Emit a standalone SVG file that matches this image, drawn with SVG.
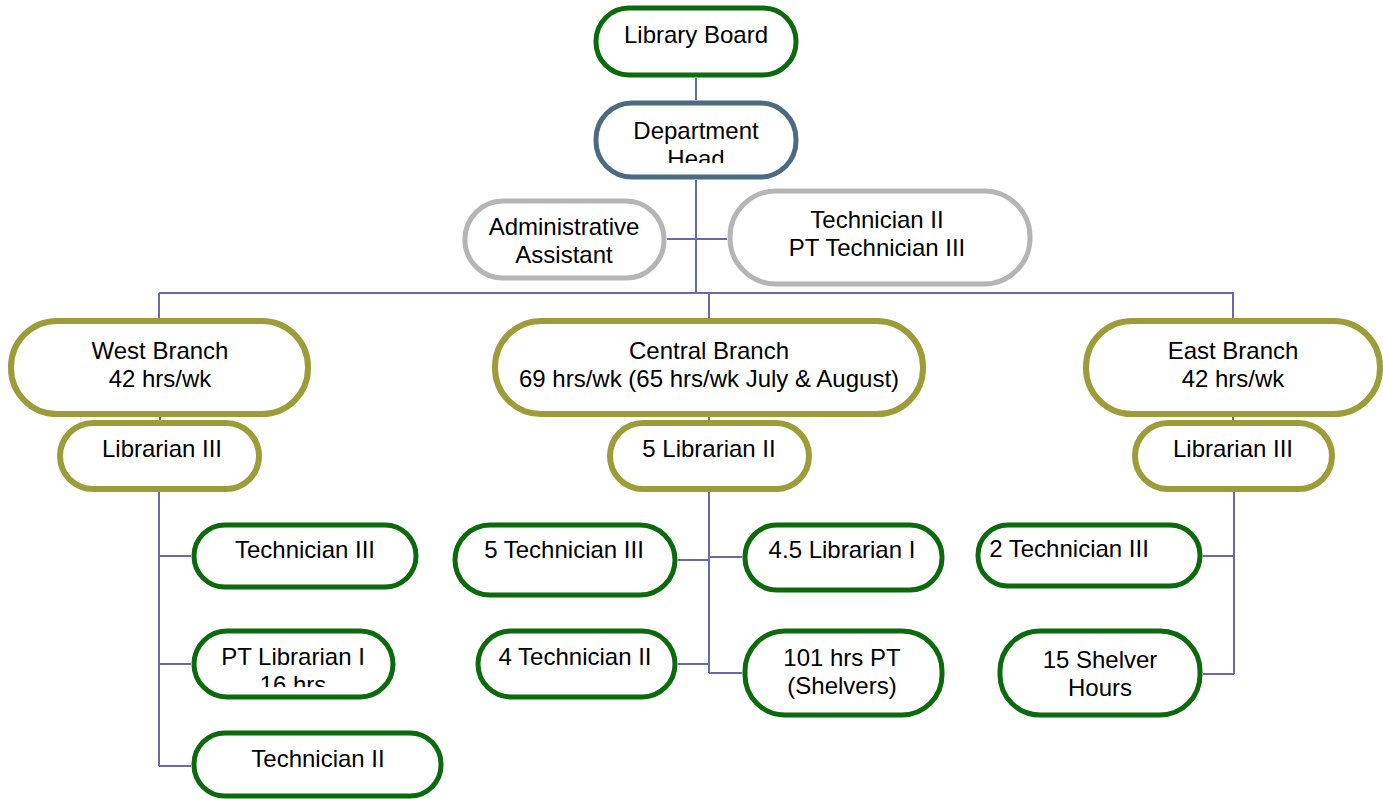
<svg xmlns="http://www.w3.org/2000/svg" width="1383" height="799" viewBox="0 0 1383 799">
  <style>
    .box { fill: #ffffff; stroke-width: 5; }
    .g { stroke: #0b6a0b; }
    .o { stroke: #9c9c38; stroke-width: 6; }
    .s { stroke: #b5b5b5; }
    .b { stroke: #4b6b80; }
    .lbl { font-family: "Liberation Sans", Arial, sans-serif; font-size: 24px; fill: #000; text-anchor: middle; }
    .wire { stroke: #6b6ba3; stroke-width: 2; fill: none; }
  </style>
  <defs>
    <clipPath id="clipHead"><rect x="590" y="100" width="215" height="63"/></clipPath>
    <clipPath id="clipPt"><rect x="190" y="628" width="210" height="59"/></clipPath>
  </defs>
  <rect width="1383" height="799" fill="#ffffff"/>

  <g id="connectors" class="wire">
    <path d="M696 78V100"/>
    <path d="M696 180V293"/>
    <path d="M667 239H727"/>
    <path d="M159 293H1234"/>
    <path d="M159 293V318M709 293V318M1233 293V318"/>
    <path d="M160 414V423M709 414V423M1233 414V423"/>
    <path d="M159 492V766M159 556H191M159 664H191M159 766H191"/>
    <path d="M709 492V673M678 560H709M709 557H742M678 664H709M709 673H742"/>
    <path d="M1234 492V674M1203 556H1234M1203 674H1234"/>
  </g>

  <g id="library-board">
    <rect class="box g" x="596" y="8" width="200" height="67" rx="33"/>
    <text class="lbl" x="696" y="43">Library Board</text>
  </g>
  <g id="department-head">
    <rect class="box b" x="596" y="103" width="200" height="74" rx="36"/>
    <text class="lbl" x="696" y="139" clip-path="url(#clipHead)">Department<tspan x="696" dy="28">Head</tspan></text>
  </g>
  <g id="admin-assistant">
    <rect class="box s" x="465" y="201" width="199" height="77" rx="38"/>
    <text class="lbl" x="564" y="235">Administrative<tspan x="564" dy="28">Assistant</tspan></text>
  </g>
  <g id="technician-staff">
    <rect class="box s" x="730" y="191" width="300" height="93" rx="46"/>
    <text class="lbl" x="877" y="228">Technician II<tspan x="877" dy="28">PT Technician III</tspan></text>
  </g>

  <g id="west-branch">
    <rect class="box o" x="11" y="321" width="297" height="93" rx="46"/>
    <text class="lbl" x="160" y="359">West Branch<tspan x="160" dy="28">42 hrs/wk</tspan></text>
  </g>
  <g id="west-librarian-iii">
    <rect class="box o" x="60" y="423" width="199" height="66" rx="33"/>
    <text class="lbl" x="162" y="457">Librarian III</text>
  </g>
  <g id="central-branch">
    <rect class="box o" x="495" y="321" width="428" height="93" rx="46"/>
    <text class="lbl" x="709" y="359">Central Branch<tspan x="709" dy="28">69 hrs/wk (65 hrs/wk July &amp; August)</tspan></text>
  </g>
  <g id="central-librarian-ii">
    <rect class="box o" x="610" y="423" width="199" height="66" rx="33"/>
    <text class="lbl" x="709" y="457">5 Librarian II</text>
  </g>
  <g id="east-branch">
    <rect class="box o" x="1086" y="321" width="294" height="93" rx="46"/>
    <text class="lbl" x="1233" y="359">East Branch<tspan x="1233" dy="28">42 hrs/wk</tspan></text>
  </g>
  <g id="east-librarian-iii">
    <rect class="box o" x="1135" y="423" width="197" height="66" rx="33"/>
    <text class="lbl" x="1233" y="457">Librarian III</text>
  </g>

  <g id="west-technician-iii">
    <rect class="box g" x="194" y="525" width="222" height="62" rx="31"/>
    <text class="lbl" x="305" y="558">Technician III</text>
  </g>
  <g id="west-pt-librarian-i">
    <rect class="box g" x="194" y="631" width="199" height="66" rx="33"/>
    <text class="lbl" x="293" y="665" clip-path="url(#clipPt)">PT Librarian I<tspan x="293" dy="28">16 hrs</tspan></text>
  </g>
  <g id="west-technician-ii">
    <rect class="box g" x="194" y="733" width="247" height="63" rx="31"/>
    <text class="lbl" x="318" y="767">Technician II</text>
  </g>

  <g id="central-technician-iii">
    <rect class="box g" x="455" y="525" width="220" height="70" rx="35"/>
    <text class="lbl" x="564" y="558">5 Technician III</text>
  </g>
  <g id="central-librarian-i">
    <rect class="box g" x="745" y="525" width="197" height="65" rx="32"/>
    <text class="lbl" x="842" y="558">4.5 Librarian I</text>
  </g>
  <g id="central-technician-ii">
    <rect class="box g" x="478" y="631" width="197" height="66" rx="33"/>
    <text class="lbl" x="575" y="665">4 Technician II</text>
  </g>
  <g id="central-shelvers">
    <rect class="box g" x="745" y="631" width="197" height="84" rx="40"/>
    <text class="lbl" x="842" y="666">101 hrs PT<tspan x="842" dy="28">(Shelvers)</tspan></text>
  </g>

  <g id="east-technician-iii">
    <rect class="box g" x="978" y="525" width="222" height="61" rx="30"/>
    <text class="lbl" x="1069" y="557">2 Technician III</text>
  </g>
  <g id="east-shelvers">
    <rect class="box g" x="1000" y="631" width="200" height="84" rx="40"/>
    <text class="lbl" x="1100" y="668">15 Shelver<tspan x="1100" dy="28">Hours</tspan></text>
  </g>
</svg>
